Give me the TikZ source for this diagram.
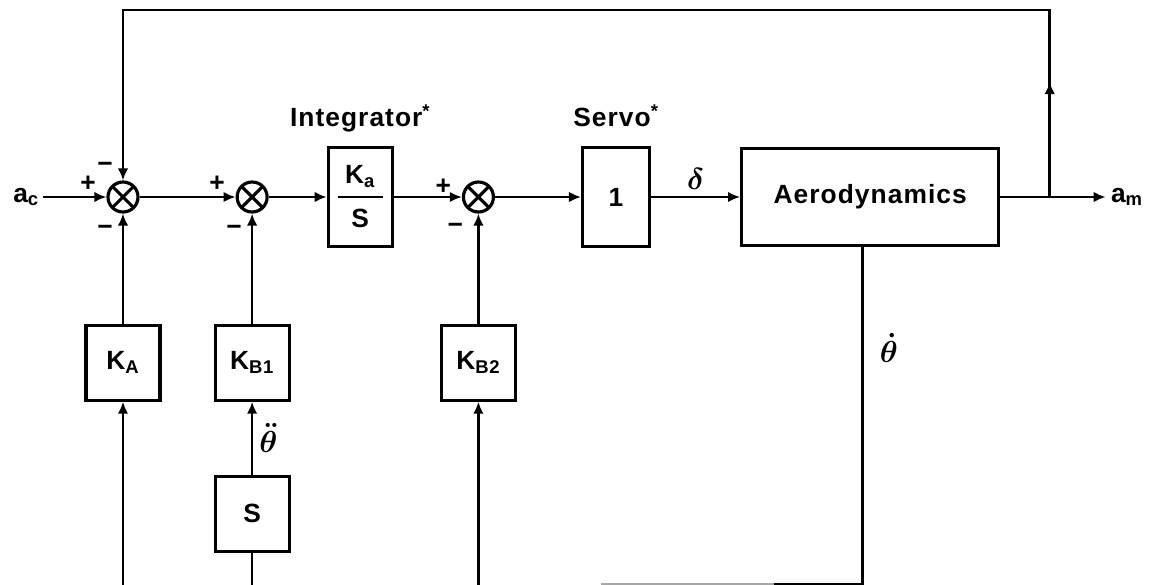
\documentclass[tikz,border=0pt]{standalone}
\usepackage{fontspec}
\setmainfont{Liberation Sans}[LetterSpace=4.0]
\usepackage{tikz}
\usetikzlibrary{arrows.meta, positioning}

\begin{document}
\begin{tikzpicture}[
        x=0.02cm, y=-0.02cm,
        node distance=1.0cm,
        >={Latex[length=2.4mm,width=2.1mm]},
        line width=1.5pt,
        font=\fontsize{15}{17}\selectfont\bfseries,
        block/.style={
            rectangle,
            draw,
            line width=1.8pt,
            minimum width=1.48cm,
            minimum height=1.5cm,
            inner sep=0pt,
            align=center
        },
        sum/.style={
            circle,
            draw,
            line width=1.8pt,
            minimum size=0.6cm,
            inner sep=0pt,
            path picture={
                \draw[line width=1.8pt]
                    (path picture bounding box.north west) -- (path picture bounding box.south east)
                    (path picture bounding box.north east) -- (path picture bounding box.south west);
            }
        },
        title/.style={text depth=0pt},
        sign/.style={font=\fontsize{15}{15}\selectfont\bfseries, inner sep=0pt},
        mathlbl/.style={font=\fontsize{18}{18}\selectfont\boldmath}
    ]
    \useasboundingbox (0,0) rectangle (1150,585);

    % Nodes
    \node[sum] (sum1) at (123,197) {};
    \node[left=1.26cm of sum1, inner sep=0.06cm] (ac) {a\textsubscript{c}};
    \node[sum, right=1.92cm of sum1] (sum2) {};
    \node[block, right=1.16cm of sum2, minimum width=1.28cm, minimum height=1.98cm] (integ)
        {K\textsubscript{a}\\[-9pt]\rule{0.9cm}{1.4pt}\\[0pt]S};
    \node[sum, right=1.36cm of integ] (sum3) {};
    \node[block, right=1.72cm of sum3, minimum width=1.34cm, minimum height=1.98cm] (servo) {1};
    \node[block, right=1.78cm of servo, minimum width=5.14cm, minimum height=1.94cm] (aero) {Aerodynamics};
    \coordinate[right=0.99cm of aero] (br);
    \node[right=1.12cm of br, inner sep=0.08cm] (am) {a\textsubscript{m}};
    \coordinate[above=3.74cm of br] (tr);
    \coordinate (tl) at (sum1 |- tr);

    \node[title, above=0.25cm of integ] (integlbl) {Integrator\textsuperscript{*}};
    \node[title, above=0.25cm of servo] (servolbl) {Servo\textsuperscript{*}};

    \node[block, below=2.2cm of sum1] (ka) {K\textsubscript{A}};
    \node[block, below=2.2cm of sum2] (kb1) {K\textsubscript{B1}};
    \node[block, below=1.46cm of kb1] (sder) {S};
    \node[block, below=2.2cm of sum3] (kb2) {K\textsubscript{B2}};

    \coordinate[below=3.76cm of ka] (kain);
    \coordinate[below=0.8cm of sder] (sdin);
    \coordinate[below=3.76cm of kb2] (kb2in);
    \coordinate (th) at ([xshift=-0.15cm]aero.south);
    \coordinate[below=6.74cm of th] (thb);
    \coordinate[left=1.78cm of thb] (thm);
    \coordinate[left=5.24cm of thb] (the);

    % Signs
    \node[sign] (p1) at ([shift={(-35,-13)}]sum1) {+};
    \node[sign] (m1a) at ([shift={(-18,-30)}]sum1) {−};
    \node[sign] (m1b) at ([shift={(-18,33)}]sum1) {−};
    \node[sign] (p2) at ([shift={(-35,-13)}]sum2) {+};
    \node[sign] (m2) at ([shift={(-18,33)}]sum2) {−};
    \node[sign] (p3) at ([shift={(-35,-10)}]sum3) {+};
    \node[sign] (m3) at ([shift={(-23,31)}]sum3) {−};

    % Arrows
    \draw[->] (ac) -- (sum1);
    \draw[->] (sum1) -- (sum2);
    \draw[->] (sum2) -- (integ);
    \draw[->] (integ) -- (sum3);
    \draw[->] (sum3) -- (servo);
    \draw[->] (servo) -- node[above, mathlbl] {$\delta$} (aero);
    \draw[->] (aero) -- (am);
    \draw[->] (br) -- ++(0,-115);
    \draw[->] (br) -- (tr) -- (tl) -- (sum1);

    \draw[->] (ka) -- (sum1);
    \draw[->] (kb1) -- (sum2);
    \draw[->] (kb2) -- (sum3);
    \draw[->] (kain) -- (ka);
    \draw[->] (sder) -- node[right, mathlbl] {$\ddot{\theta}$} (kb1);
    \draw (sdin) -- (sder);
    \draw[->] (kb2in) -- (kb2);
    \draw (th) -- node[right=0.2cm, pos=0.3, mathlbl] {$\dot{\theta}$} (thb) -- (thm);
    \draw[gray!70, line width=0.8pt] (thm) -- (the);

\end{tikzpicture}
\end{document}
